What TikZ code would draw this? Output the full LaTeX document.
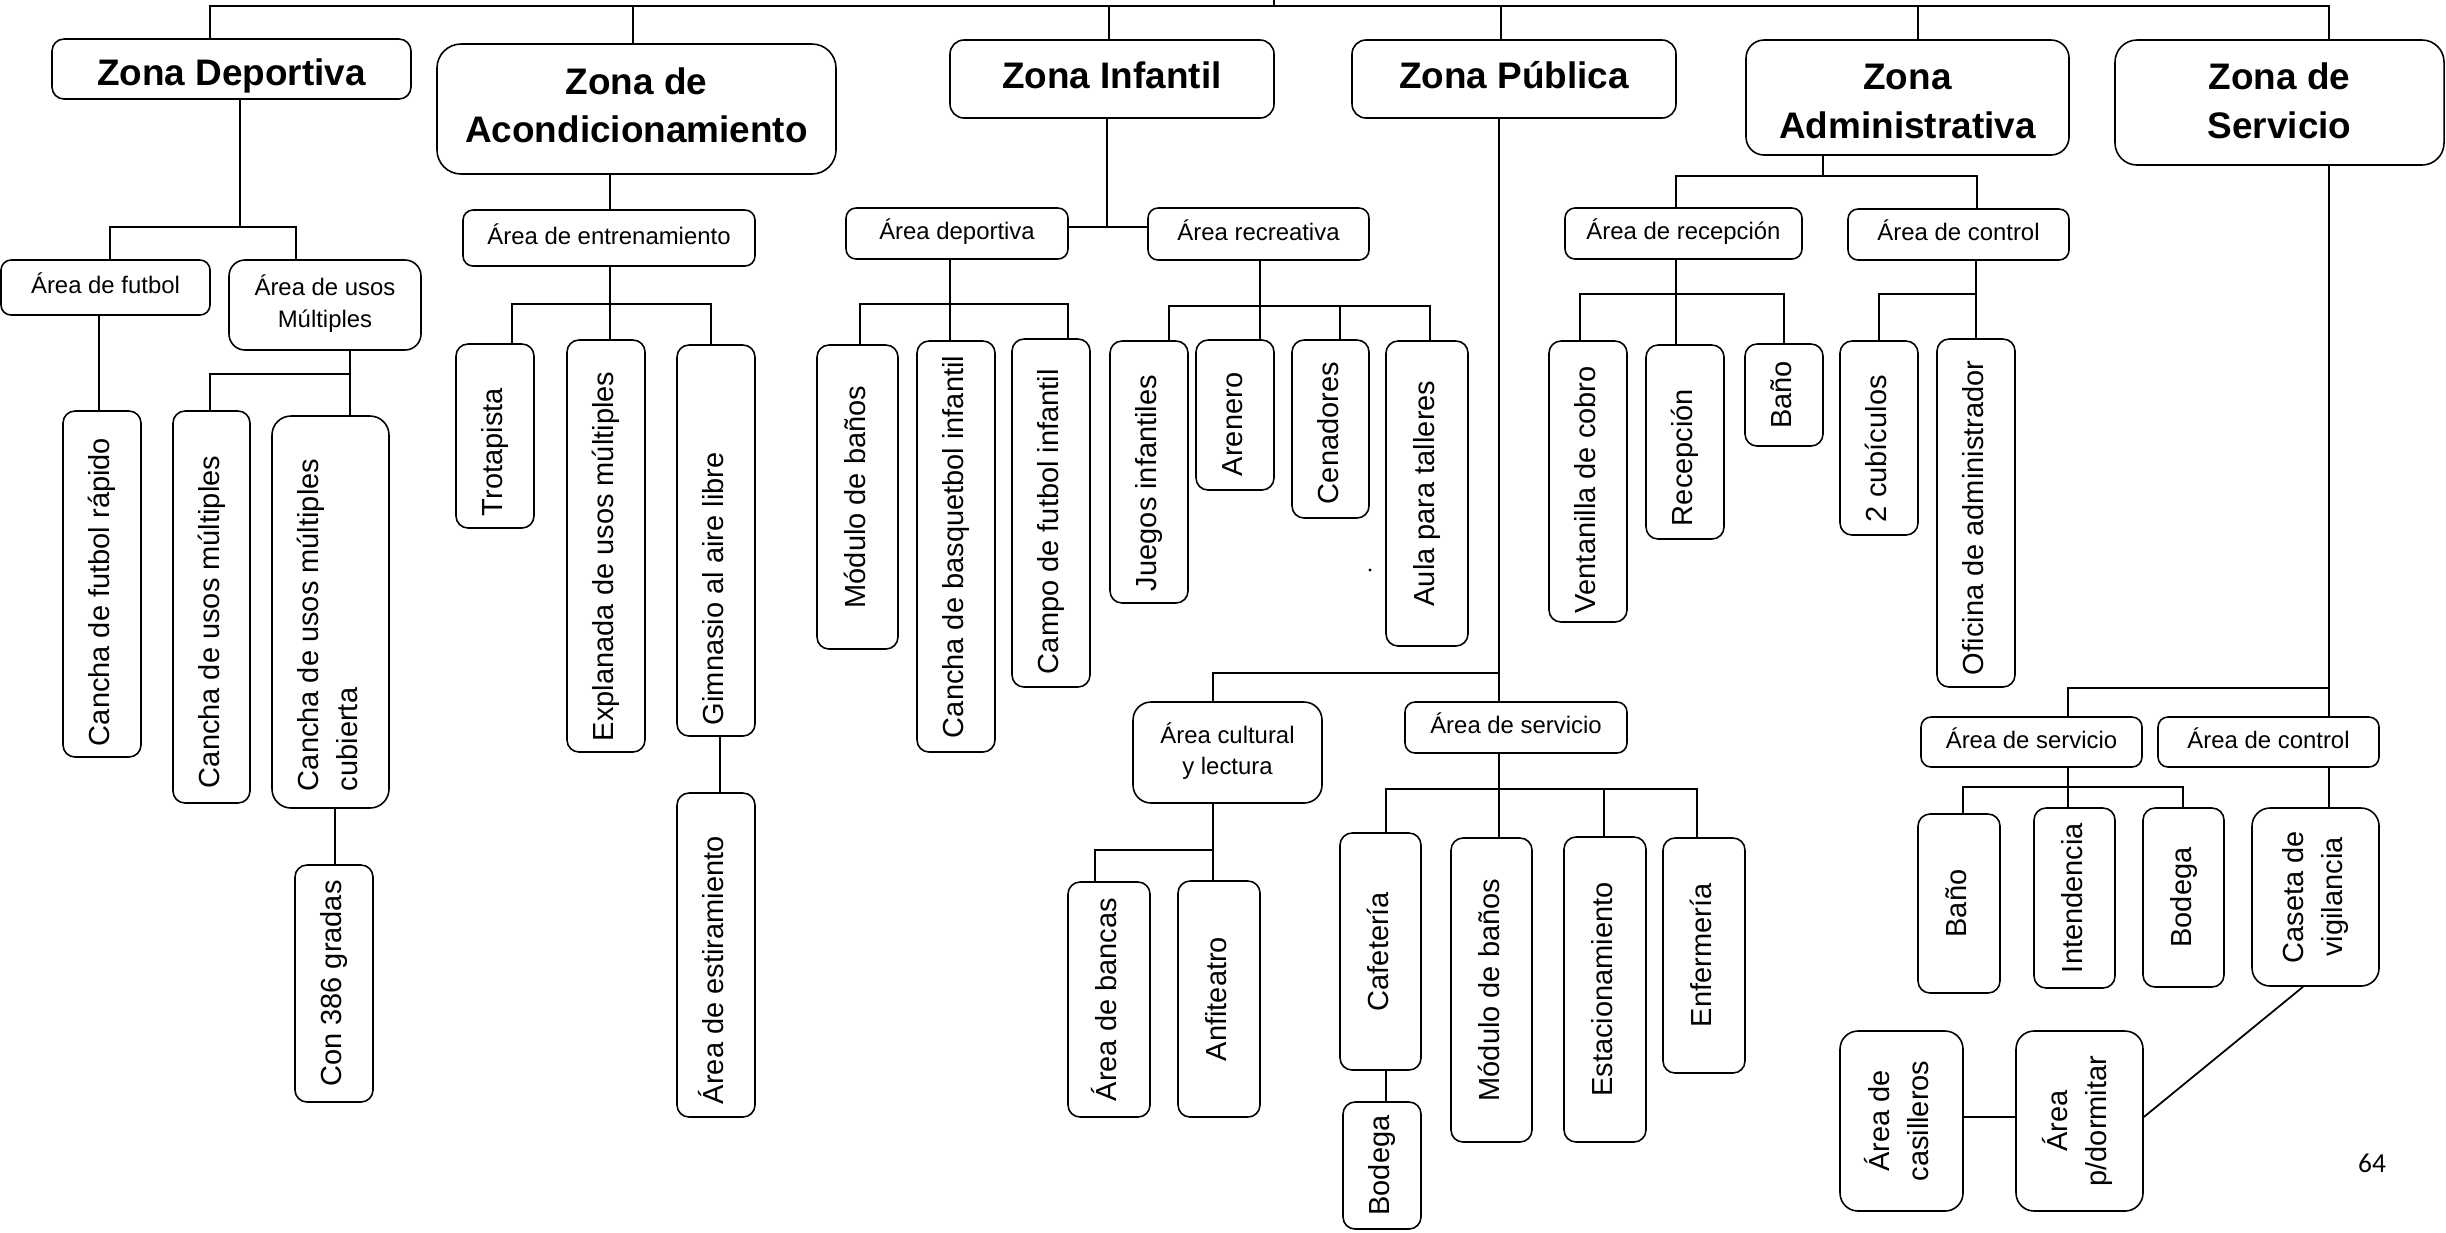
\documentclass[tikz,border=0pt]{standalone}
\usepackage{fontspec}
\setmainfont{Liberation Sans}
\newfontfamily\calfont{Carlito}
\usepackage{graphicx}
\newdimen\pxu \pxu=0.01cm
\tikzset{
 bx/.style={draw, line width=0.45pt, inner sep=0pt, rounded corners=0.1cm, anchor=center},
 zone/.style={bx, font=\fontsize{10.5}{13.8}\selectfont\bfseries},
 area/.style={bx, font=\fontsize{6.8}{9}\selectfont},
 vert/.style={bx, rounded corners=0.12cm, font=\fontsize{8.25}{11}\selectfont},
 link/.style={line width=0.5pt},
 sized/.style n args={4}{minimum width={(#3-#1)*\pxu}, minimum height={(#4-#2)*\pxu}},
}
% horizontal box: [lift px] name, x1, y1, x2, y2, style, text
\newcommand\hbx[8][0]{\node[#7, sized={#3}{#4}{#5}{#6}] (#2) at ({(#3+#5)/2},{(#4+#6)/2}) {\raisebox{-#1\pxu}[\height][\depth]{\begin{tabular}{@{}c@{}}#8\end{tabular}}};}
% vertical box, text from bottom: name, x1, y1, x2, y2, pad, style, text
\newcommand\vbl[8]{\node[vert,#7, sized={#2}{#3}{#4}{#5}] (#1) at ({(#2+#4)/2},{(#3+#5)/2}) {\rotatebox{90}{\makebox[\dimexpr #5\pxu-#3\pxu-#6\pxu-#6\pxu\relax][l]{\begin{tabular}{@{}l@{}}#8\end{tabular}}}};}
% vertical box, centred text: name, x1, y1, x2, y2, style, text
\newcommand\vbc[7]{\node[vert,#6, sized={#2}{#3}{#4}{#5}] (#1) at ({(#2+#4)/2},{(#3+#5)/2}) {\rotatebox{90}{\begin{tabular}{@{}c@{}}#7\end{tabular}}};}
\begin{document}
\begin{tikzpicture}[x=0.01cm, y=-0.01cm]
\useasboundingbox (0,0) rectangle (2446,1232);
\fill[white] (0,0) rectangle (2446,1232);
% zones
\hbx[7]{zd}{52}{39}{411}{99}{zone, rounded corners=0.12cm}{Zona Deportiva}
\hbx{za}{437}{44}{836}{174}{zone, rounded corners=0.24cm}{Zona de\\Acondicionamiento}
\hbx{zi}{950}{40}{1274}{118}{zone, rounded corners=0.14cm}{Zona Infantil}
\hbx{zp}{1352}{40}{1676}{118}{zone, rounded corners=0.14cm}{Zona Pública}
\hbx[7]{zadm}{1746}{40}{2069}{155}{zone, rounded corners=0.18cm}{Zona\\Administrativa}
\hbx[2]{zs}{2115}{40}{2444}{165}{zone, rounded corners=0.22cm}{Zona de\\Servicio}
% areas
\hbx{afut}{1}{260}{210}{315}{area}{Área de futbol}
\hbx{ausos}{229}{260}{421}{350}{area, rounded corners=0.16cm}{Área de usos\\Múltiples}
\hbx{aent}{463}{210}{755}{266}{area}{Área de entrenamiento}
\hbx{adep}{846}{208}{1068}{259}{area}{Área deportiva}
\hbx{arec}{1148}{208}{1369}{260}{area}{Área recreativa}
\hbx{acul}{1133}{702}{1322}{803}{area, rounded corners=0.18cm}{Área cultural\\y lectura}
\hbx{aserp}{1405}{702}{1627}{753}{area}{Área de servicio}
\hbx{arecep}{1565}{208}{1802}{259}{area}{Área de recepción}
\hbx{actl}{1848}{209}{2069}{260}{area}{Área de control}
\hbx{asers}{1921}{717}{2142}{767}{area}{Área de servicio}
\hbx{actls}{2158}{717}{2379}{767}{area}{Área de control}
% vertical boxes
\vbl{cfr}{63}{411}{141}{757}{11}{}{Cancha de futbol rápido}
\vbl{cum}{173}{411}{250}{803}{15}{}{Cancha de usos múltiples}
\vbl{cumc}{272}{416}{389}{808}{17}{rounded corners=0.19cm}{Cancha de usos múltiples\\cubierta}
\vbc{c386}{295}{865}{373}{1102}{}{Con 386 gradas}
\vbl{trot}{456}{344}{534}{528}{12}{}{Trotapista}
\vbl{expl}{567}{340}{645}{752}{11}{}{Explanada de usos múltiples}
\vbl{gimn}{677}{345}{755}{736}{11}{}{Gimnasio al aire libre}
\vbl{aest}{677}{793}{755}{1117}{13}{}{Área de estiramiento}
\vbc{mbi}{817}{345}{898}{649}{}{Módulo de baños}
\vbl{cbi}{917}{341}{995}{752}{14}{}{Cancha de basquetbol infantil}
\vbl{cfi}{1012}{339}{1090}{687}{13}{}{Campo de futbol infantil}
\vbl{jinf}{1110}{341}{1188}{603}{12}{}{Juegos infantiles}
\vbl{aren}{1196}{340}{1274}{490}{14}{}{Arenero}
\vbl{cena}{1292}{340}{1369}{518}{14}{}{Cenadores}
\vbc{aula}{1386}{341}{1468}{646}{}{Aula para talleres}
\vbc{abanc}{1068}{882}{1150}{1117}{}{Área de bancas}
\vbc{anfi}{1178}{881}{1260}{1117}{}{Anfiteatro}
\vbc{cafe}{1340}{833}{1421}{1070}{}{Cafetería}
\vbc{bodp}{1343}{1102}{1421}{1229}{}{Bodega}
\vbc{mbp}{1451}{838}{1532}{1142}{}{Módulo de baños}
\vbc{esta}{1564}{837}{1646}{1142}{}{Estacionamiento}
\vbc{enfe}{1663}{838}{1745}{1073}{}{Enfermería}
\vbl{vent}{1549}{341}{1627}{622}{9}{}{Ventanilla de cobro}
\vbl{recp}{1646}{345}{1724}{539}{13}{}{Recepción}
\vbc{banoa}{1745}{344}{1823}{446}{}{Baño}
\vbl{cub2}{1840}{341}{1918}{535}{13}{}{2 cubículos}
\vbl{ofic}{1937}{339}{2015}{687}{12}{}{Oficina de administrador}
\vbc{banos}{1918}{814}{2000}{993}{}{Baño}
\vbc{inte}{2034}{808}{2115}{988}{}{Intendencia}
\vbc{bods}{2143}{808}{2224}{987}{}{Bodega}
\vbc{case}{2252}{808}{2379}{986}{rounded corners=0.18cm}{Caseta de\\vigilancia}
\vbc{acas}{1840}{1031}{1963}{1211}{rounded corners=0.18cm}{Área de\\casilleros}
\vbc{adorm}{2016}{1031}{2143}{1211}{rounded corners=0.18cm}{Área\\p/dormitar}
% page number and stray dot
\node[font=\calfont\fontsize{7.8}{9}\selectfont] (pg) at (2372,1163) {64};
\fill (1370,570) circle (0.45pt);
% connectors
\coordinate (root) at (1274,0);
\begin{scope}[link]
\draw (root) -- (1274,6);
\draw (zd.north -| 210,0) -- (210,6) -- (2329,6) -- (zs.north -| 2329,0);
\foreach \X/\N in {633/za,1109/zi,1501/zp,1918/zadm} \draw (\X,6) -- (\N.north -| \X,0);
% Zona Deportiva
\draw (zd.south -| 240,0) -- (240,227);
\draw (afut.north -| 110,0) -- (110,227) -- (296,227) -- (ausos.north -| 296,0);
\draw (afut.south -| 99,0) -- (cfr.north -| 99,0);
\draw (ausos.south -| 350,0) -- (cumc.north -| 350,0);
\draw (cum.north -| 210,0) -- (210,374) -- (350,374);
\draw (cumc.south -| 335,0) -- (c386.north -| 335,0);
% Zona de Acondicionamiento
\draw (za.south -| 610,0) -- (aent.north -| 610,0);
\draw (aent.south -| 610,0) -- (expl.north -| 610,0);
\draw (trot.north -| 512,0) -- (512,304) -- (711,304) -- (gimn.north -| 711,0);
\draw (gimn.south -| 720,0) -- (aest.north -| 720,0);
% Zona Infantil
\draw (zi.south -| 1107,0) -- (1107,227);
\draw (adep.east |- 0,227) -- (arec.west |- 0,227);
\draw (adep.south -| 950,0) -- (cbi.north -| 950,0);
\draw (mbi.north -| 860,0) -- (860,304) -- (1068,304) -- (cfi.north -| 1068,0);
\draw (arec.south -| 1260,0) -- (aren.north -| 1260,0);
\draw (jinf.north -| 1169,0) -- (1169,306) -- (1430,306) -- (aula.north -| 1430,0);
\draw (1340,306) -- (cena.north -| 1340,0);
% Zona Publica
\draw (zp.south -| 1499,0) -- (aserp.north -| 1499,0);
\draw (acul.north -| 1213,0) -- (1213,673) -- (1499,673);
\draw (acul.south -| 1213,0) -- (anfi.north -| 1213,0);
\draw (abanc.north -| 1095,0) -- (1095,850) -- (1213,850);
\draw (aserp.south -| 1499,0) -- (mbp.north -| 1499,0);
\draw (cafe.north -| 1386,0) -- (1386,789) -- (1697,789) -- (enfe.north -| 1697,0);
\draw (1604,789) -- (esta.north -| 1604,0);
\draw (cafe.south -| 1386,0) -- (bodp.north -| 1386,0);
% Zona Administrativa
\draw (zadm.south -| 1823,0) -- (1823,176);
\draw (arecep.north -| 1676,0) -- (1676,176) -- (1977,176) -- (actl.north -| 1977,0);
\draw (arecep.south -| 1676,0) -- (recp.north -| 1676,0);
\draw (vent.north -| 1580,0) -- (1580,294) -- (1784,294) -- (banoa.north -| 1784,0);
\draw (actl.south -| 1976,0) -- (ofic.north -| 1976,0);
\draw (cub2.north -| 1879,0) -- (1879,294) -- (1976,294);
% Zona de Servicio
\draw (zs.south -| 2329,0) -- (actls.north -| 2329,0);
\draw (asers.north -| 2068,0) -- (2068,688) -- (2329,688);
\draw (asers.south -| 2068,0) -- (inte.north -| 2068,0);
\draw (banos.north -| 1963,0) -- (1963,787) -- (2183,787) -- (bods.north -| 2183,0);
\draw (actls.south -| 2329,0) -- (case.north -| 2329,0);
\draw (case.south -| 2303,0) -- (adorm.east |- 0,1117);
\draw (acas.east |- 0,1117) -- (adorm.west |- 0,1117);
\end{scope}
\end{tikzpicture}
\end{document}
